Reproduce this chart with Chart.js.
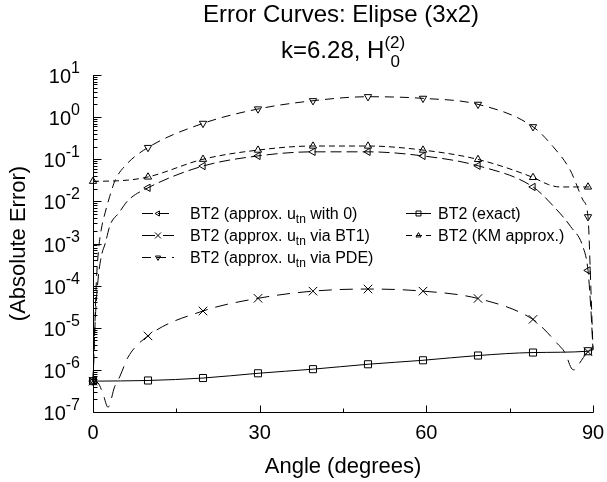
<!DOCTYPE html>
<html>
<head>
<meta charset="utf-8">
<script src="https://cdn.jsdelivr.net/npm/chart.js@4.4.1/dist/chart.umd.min.js"></script>
<style>
  html, body { margin: 0; padding: 0; background: #fff; }
  canvas { display: block; }
</style>
</head>
<body>
<canvas id="errChart" width="607" height="482"></canvas>
<script>
// angles (degrees) where markers sit
const markAngles = [0, 9.9, 19.8, 29.7, 39.6, 49.5, 59.4, 69.3, 79.2, 89.1];

// BT2 (approx. u_tn with 0)
const zeroAngles = [0, 0.4, 0.9, 1.5, 2.2, 3.1, 4.6, 6.3, 9.9, 19.8, 29.7, 39.6, 49.5, 59.4, 69.3, 79.2, 83, 86, 88.2, 89.1, 89.6, 90];
const zeroErr = [5.4e-7, 1.5e-5, 1.35e-4, 5e-4, 1.0e-3, 2.8e-3, 5.2e-3, 0.0105, 0.021, 0.069, 0.12, 0.15, 0.15, 0.12, 0.07, 0.022, 0.0074, 0.0025, 8.3e-4, 2.3e-4, 3e-5, 3.0e-6];

// BT2 (approx. u_tn via BT1)
const bt1Angles = [0, 0.9, 1.8, 2.7, 3.9, 4.8, 6.3, 9.9, 19.8, 29.7, 39.6, 49.5, 59.4, 69.3, 79.2, 81, 83.5, 85, 86.1, 86.6, 87.5, 89.1, 90];
const bt1Err = [5.4e-7, 4.9e-7, 2.7e-7, 1.3e-7, 4.0e-7, 6.8e-7, 2.0e-6, 6.4e-6, 2.5e-5, 5.0e-5, 7.4e-5, 8.3e-5, 7.4e-5, 4.95e-5, 1.58e-5, 9.8e-6, 4.3e-6, 2.5e-6, 1.1e-6, 1.0e-6, 1.4e-6, 2.7e-6, 3.0e-6];

// BT2 (approx. u_tn via PDE)
const pdeAngles = [0, 0.3, 0.6, 1.0, 1.5, 2.2, 3.0, 4.0, 6.0, 9.9, 19.8, 29.7, 39.6, 49.5, 59.4, 69.3, 79.2, 82.8, 85.9, 88.2, 89.1, 89.6, 90];
const pdeErr = [5.4e-7, 8e-6, 1.2e-4, 7e-4, 2.2e-3, 5.5e-3, 0.013, 0.032, 0.075, 0.19, 0.71, 1.56, 2.45, 3.05, 2.79, 2.01, 0.59, 0.2, 0.055, 0.0107, 0.0043, 1e-4, 3.0e-6];

// BT2 (exact)
const exactAngles = [0, 9.9, 19.8, 29.7, 39.6, 49.5, 59.4, 69.3, 79.2, 89.1, 90];
const exactErr = [5.4e-7, 5.6e-7, 6.4e-7, 8.3e-7, 1.04e-6, 1.36e-6, 1.69e-6, 2.19e-6, 2.58e-6, 2.77e-6, 3.0e-6];

// BT2 (KM approx.)
const kmAngles = [0, 5, 9.9, 19.8, 29.7, 39.6, 49.5, 59.4, 69.3, 79.2, 82, 84, 87, 89.1, 90];
const kmErr = [0.030, 0.031, 0.038, 0.10, 0.165, 0.206, 0.206, 0.165, 0.099, 0.037, 0.025, 0.022, 0.022, 0.022, 0.022];

const yExponents = [-7, -6, -5, -4, -3, -2, -1, 0, 1];
const xTickLabels = [0, 30, 60, 90];

const FONT = '"Liberation Sans", Arial, Helvetica, sans-serif';

function pts(xs, ys) {
  return xs.map((x, i) => ({ x: x, y: ys[i] }));
}

const series = [
  { label: 'with 0', data: pts(zeroAngles, zeroErr), style: 'triangle', rot: 270, r: 4.2, dash: [11, 5] },
  { label: 'via BT1', data: pts(bt1Angles, bt1Err), style: 'crossRot', rot: 0, r: 6, dash: [13, 8] },
  { label: 'via PDE', data: pts(pdeAngles, pdeErr), style: 'triangle', rot: 180, r: 4.2, dash: [9, 6] },
  { label: 'exact', data: pts(exactAngles, exactErr), style: 'rect', rot: 0, r: 5, dash: [] },
  { label: 'KM', data: pts(kmAngles, kmErr), style: 'triangle', rot: 0, r: 4.2, dash: [6, 4] }
];

const datasets = series.map(s => ({
  label: s.label,
  data: s.data,
  borderColor: '#000',
  borderWidth: 1,
  borderDash: s.dash,
  cubicInterpolationMode: 'monotone',
  fill: false,
  clip: false,
  pointStyle: s.style,
  rotation: s.rot,
  pointRadius: ctx => (ctx.raw && markAngles.includes(ctx.raw.x)) ? s.r : 0,
  pointBorderColor: '#000',
  pointBorderWidth: 1,
  pointBackgroundColor: 'rgba(0,0,0,0)'
}));

// text with a superscript / subscript part
function drawSup(ctx, base, sup, x, y, baseSize, supSize, rise) {
  ctx.font = baseSize + 'px ' + FONT;
  ctx.fillText(base, x, y);
  const w = ctx.measureText(base).width;
  ctx.font = supSize + 'px ' + FONT;
  ctx.fillText(sup, x + w, y - rise);
}

function legendItem(ctx, s, x0, x1, y, text, sub, tail, tx) {
  ctx.save();
  ctx.strokeStyle = '#000';
  ctx.lineWidth = 1;
  ctx.setLineDash(s.dash);
  ctx.beginPath();
  ctx.moveTo(x0, y + 0.5);
  ctx.lineTo(x1, y + 0.5);
  ctx.stroke();
  ctx.setLineDash([]);
  ctx.fillStyle = 'rgba(0,0,0,0)';
  Chart.helpers.drawPoint(ctx, { pointStyle: s.style, rotation: s.rot, radius: s.r * 0.7, borderWidth: 1 }, (x0 + x1) / 2, y + 0.5);
  ctx.restore();

  ctx.fillStyle = '#000';
  ctx.textAlign = 'left';
  ctx.textBaseline = 'alphabetic';
  ctx.font = '16px ' + FONT;
  ctx.fillText(text, tx, y + 6);
  let w = ctx.measureText(text).width;
  if (sub) {
    ctx.font = '12px ' + FONT;
    ctx.fillText(sub, tx + w, y + 10);
    w += ctx.measureText(sub).width;
    ctx.font = '16px ' + FONT;
    ctx.fillText(tail, tx + w, y + 6);
  }
}

const decorPlugin = {
  id: 'decor',
  afterDraw(chart) {
    const ctx = chart.ctx;
    const xs = chart.scales.x, ys = chart.scales.y;
    const a = chart.chartArea;
    ctx.save();
    ctx.strokeStyle = '#000';
    ctx.lineWidth = 1;
    ctx.setLineDash([]);

    // axis lines (left and bottom only)
    const L = Math.round(a.left) + 0.5, B = Math.round(a.bottom) + 0.5;
    ctx.beginPath();
    ctx.moveTo(L, Math.round(a.top));
    ctx.lineTo(L, B);
    ctx.lineTo(Math.round(a.right) + 0.5, B);
    ctx.stroke();

    // y ticks, pointing inward
    ctx.beginPath();
    yExponents.forEach(e => {
      const yp = Math.round(ys.getPixelForValue(Math.pow(10, e))) + 0.5;
      ctx.moveTo(L, yp); ctx.lineTo(L + 8, yp);
      if (e < 1) {
        for (let k = 2; k <= 9; k++) {
          const ym = Math.round(ys.getPixelForValue(k * Math.pow(10, e))) + 0.5;
          ctx.moveTo(L, ym); ctx.lineTo(L + 4, ym);
        }
      }
    });
    // x ticks every 15 degrees
    for (let d = 0; d <= 90; d += 15) {
      const xp = Math.round(xs.getPixelForValue(d)) + 0.5;
      ctx.moveTo(xp, B); ctx.lineTo(xp, B - (d % 30 === 0 ? 7 : 4));
    }
    ctx.stroke();

    ctx.fillStyle = '#000';
    // y tick labels 10^n
    yExponents.forEach(e => {
      const yp = ys.getPixelForValue(Math.pow(10, e));
      const expTxt = String(e);
      ctx.font = '16px ' + FONT;
      const ew = ctx.measureText(expTxt).width;
      ctx.font = '20px ' + FONT;
      const bw = ctx.measureText('10').width;
      const right = 80;
      ctx.textAlign = 'left';
      ctx.textBaseline = 'alphabetic';
      drawSup(ctx, '10', expTxt, right - ew - bw, yp + 8, 20, 16, 10);
    });

    // x tick labels
    ctx.font = '20px ' + FONT;
    ctx.textAlign = 'center';
    ctx.textBaseline = 'alphabetic';
    xTickLabels.forEach(v => {
      ctx.fillText(String(v), xs.getPixelForValue(v), 439);
    });

    // axis titles
    ctx.font = '22px ' + FONT;
    ctx.fillText('Angle (degrees)', (a.left + a.right) / 2, 473);
    ctx.save();
    ctx.translate(25, (a.top + a.bottom) / 2);
    ctx.rotate(-Math.PI / 2);
    ctx.fillText('(Absolute Error)', 0, 0);
    ctx.restore();

    // title
    ctx.font = '24px ' + FONT;
    ctx.fillText('Error Curves: Elipse (3x2)', 341, 22);
    // subtitle k=6.28, H_0^(2)
    ctx.textAlign = 'left';
    const st = 'k=6.28, H';
    ctx.font = '24px ' + FONT;
    const sw = ctx.measureText(st).width;
    const sx = 281;
    ctx.fillText(st, sx, 58);
    ctx.font = '17px ' + FONT;
    ctx.fillText('(2)', sx + sw, 48);
    ctx.fillText('0', sx + sw + 6, 67);

    // legend
    legendItem(ctx, series[0], 142, 174, 213, 'BT2 (approx. u', 'tn', ' with 0)', 190);
    legendItem(ctx, series[1], 142, 174, 235, 'BT2 (approx. u', 'tn', ' via BT1)', 190);
    legendItem(ctx, series[2], 142, 174, 257, 'BT2 (approx. u', 'tn', ' via PDE)', 190);
    legendItem(ctx, series[3], 406, 431, 213, 'BT2 (exact)', null, null, 438);
    legendItem(ctx, series[4], 406, 431, 235, 'BT2 (KM approx.)', null, null, 438);

    ctx.restore();
  }
};

new Chart(document.getElementById('errChart').getContext('2d'), {
  type: 'line',
  data: { datasets: datasets },
  options: {
    responsive: false,
    animation: false,
    events: [],
    layout: { padding: { top: 75, right: 14, left: 0, bottom: 0 } },
    plugins: { legend: { display: false }, tooltip: { enabled: false }, title: { display: false } },
    scales: {
      x: {
        type: 'linear', min: 0, max: 90,
        grid: { display: false }, border: { display: false }, ticks: { display: false },
        afterFit: s => { s.height = 70; }
      },
      y: {
        type: 'logarithmic', min: 1e-7, max: 10,
        grid: { display: false }, border: { display: false }, ticks: { display: false },
        afterFit: s => { s.width = 93; }
      }
    }
  },
  plugins: [decorPlugin]
});
</script>
</body>
</html>
